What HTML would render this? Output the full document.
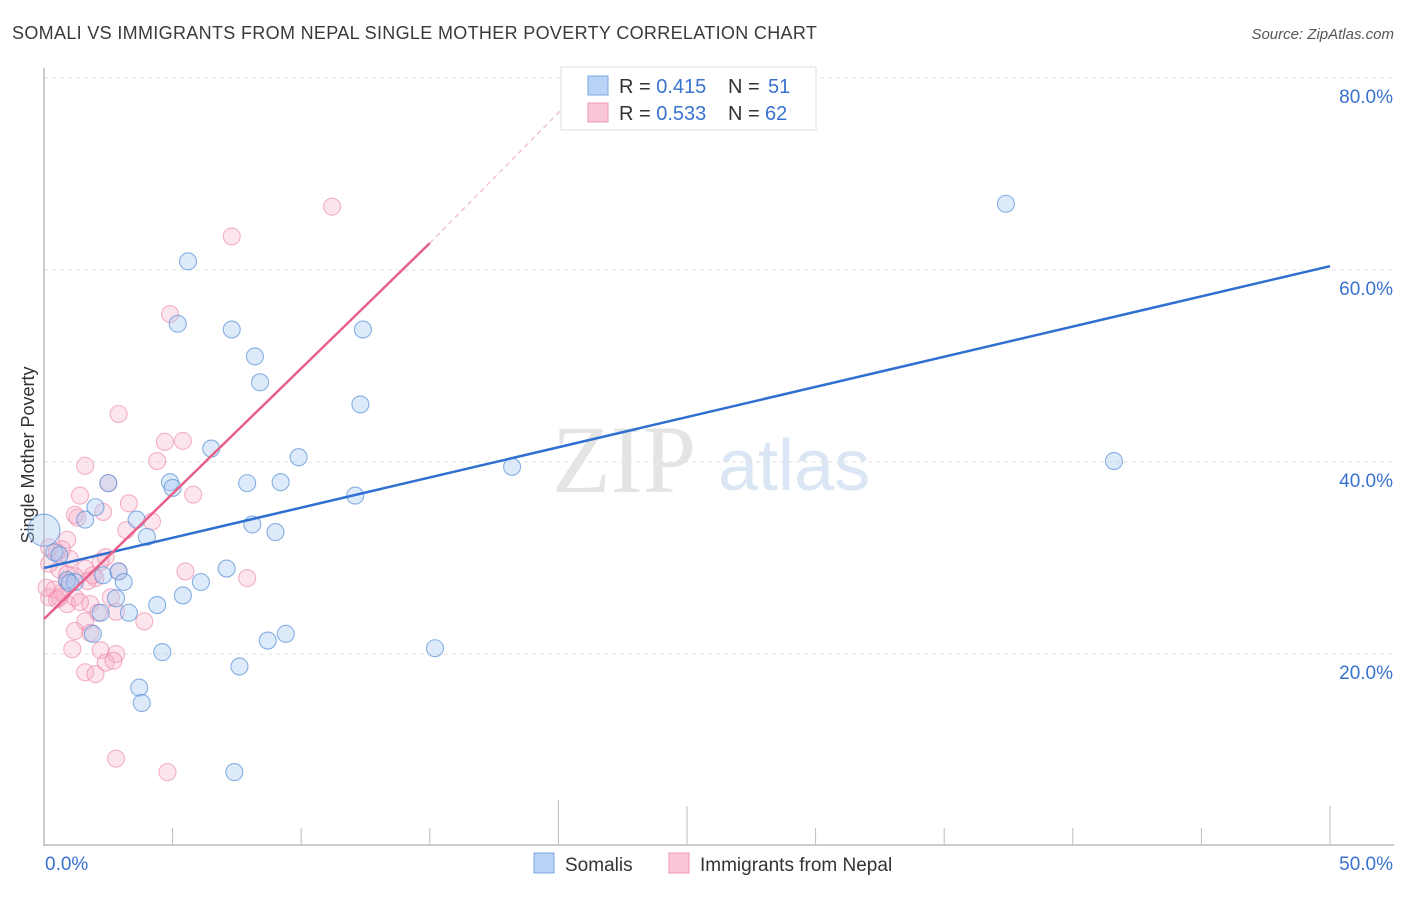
<!DOCTYPE html>
<html><head><meta charset="utf-8"><style>
body{margin:0;background:#fff;font-family:"Liberation Sans",sans-serif}
</style></head><body>
<svg id="chart" width="1406" height="892" xmlns="http://www.w3.org/2000/svg" font-family="Liberation Sans, sans-serif">
<text x="12" y="39" font-size="18" fill="#3a3a3a" letter-spacing="0.33">SOMALI VS IMMIGRANTS FROM NEPAL SINGLE MOTHER POVERTY CORRELATION CHART</text>
<text x="1394" y="39" font-size="15" fill="#555" font-style="italic" text-anchor="end">Source: ZipAtlas.com</text>
<text x="552" y="492" font-size="96" fill="#e4e4e4" font-family="Liberation Serif, serif">ZIP</text>
<text x="718" y="490" font-size="72" fill="#dbe6f5">atlas</text>
<text transform="translate(34,455) rotate(-90)" font-size="18" fill="#333" text-anchor="middle">Single Mother Poverty</text>
<g id="grid"></g><g id="axes"></g><g id="marks"></g>
<g>
<rect x="561" y="67" width="255" height="63" fill="#fff" stroke="#ddd"/>
<rect x="588" y="76" width="20" height="19" fill="#b8d3f5" stroke="#7aa6e0"/>
<rect x="588" y="103" width="20" height="19" fill="#fac7d7" stroke="#ec9ab3"/>
<text x="619" y="93" font-size="20" fill="#333">R = <tspan fill="#3a72d0">0.415</tspan><tspan x="728">N = </tspan><tspan fill="#3a72d0" x="768">51</tspan></text>
<text x="619" y="120" font-size="20" fill="#333">R = <tspan fill="#3a72d0">0.533</tspan><tspan x="728">N = </tspan><tspan fill="#3a72d0" x="765">62</tspan></text>
</g>
<g>
<rect x="534" y="853" width="20" height="20" fill="#b8d3f5" stroke="#7aa6e0"/>
<text x="565" y="871" font-size="19" fill="#333">Somalis</text>
<rect x="669" y="853" width="20" height="20" fill="#fac7d7" stroke="#ec9ab3"/>
<text x="700" y="871" font-size="19" fill="#333">Immigrants from Nepal</text>
</g>
</svg>
<script>
const yTicks=[20,40,60,80];
const xTickLabels=["0.0%","50.0%"];
const blueX=[5.6,5.2,7.3,8.2,8.4,12.4,12.3,6.5,9.9,4.9,5.0,7.9,9.2,2.5,12.1,8.1,9.0,4.0,1.6,2.0,3.6,0.0,0.4,0.6,0.9,1.2,1.0,2.3,2.9,3.1,2.8,2.2,3.3,4.4,5.4,6.1,7.1,1.9,8.7,9.4,4.6,7.6,15.2,3.7,3.8,7.4,18.2,37.4,41.6];
const blueY=[60.9,54.4,53.8,51.0,48.3,53.8,46.0,41.4,40.5,37.9,37.3,37.8,37.9,37.8,36.5,33.5,32.7,32.2,34.0,35.3,34.0,32.9,30.6,30.3,27.7,27.5,27.4,28.2,28.6,27.5,25.8,24.3,24.3,25.1,26.1,27.5,28.9,22.1,21.4,22.1,20.2,18.7,20.6,16.5,14.9,7.7,39.5,66.9,40.1];
const pinkX=[11.2,7.3,4.9,2.9,4.7,5.4,4.4,1.6,1.4,2.5,5.8,3.3,1.3,1.2,2.3,4.2,3.2,0.9,0.2,0.5,1.0,0.2,2.4,2.2,1.6,0.6,1.2,2.0,1.9,1.7,0.9,5.5,7.9,0.4,0.7,0.2,0.6,0.9,1.2,1.8,2.6,2.8,2.1,3.9,1.6,1.2,1.8,1.1,2.2,2.8,2.4,2.7,1.6,2.0,2.8,4.8,0.7,0.5,0.1,2.9,0.9,1.4];
const pinkY=[66.6,63.5,55.4,45.0,42.1,42.2,40.1,39.6,36.5,37.8,36.6,35.7,34.2,34.5,34.8,33.8,32.9,31.9,31.1,30.6,29.9,29.4,30.1,29.6,28.9,28.8,28.1,27.9,28.2,27.6,27.5,28.6,27.9,26.7,26.4,25.9,25.9,25.2,25.9,25.2,25.9,24.4,24.3,23.4,23.4,22.4,22.2,20.5,20.4,20.0,19.1,19.3,18.1,17.9,9.1,7.7,30.9,25.7,26.9,28.6,28.3,25.4];
const blueLine=[[0,28.96],[50,60.4]];
const pinkLine=[[0,23.65],[15.0,62.8]];
const pinkDash=[[15.0,62.8],[20.3,77.2]];
const X=v=>44+v/50*1286, Y=v=>846-v*9.6;
const NS="http://www.w3.org/2000/svg";
function mk(p,t,a){const e=document.createElementNS(NS,t);for(const k in a)e.setAttribute(k,a[k]);document.getElementById(p).appendChild(e);return e;}
yTicks.forEach(t=>{
 const g=mk("grid","line",{x1:44,x2:1394,y1:Y(t),y2:Y(t),stroke:"#e2e2e2","stroke-dasharray":"4,4"});
 
 
 const l=mk("grid","text",{x:1393,y:Y(t)+25,"font-size":19,fill:"#3a72d0","text-anchor":"end"});l.textContent=t.toFixed(1)+"%";
 
 
});
const ax=mk("axes","line",{x1:44,x2:44,y1:68,y2:846,stroke:"#bbb","stroke-width":1.5});


const bx=mk("axes","line",{x1:44,x2:1394,y1:845,y2:845,stroke:"#bbb","stroke-width":1.5});


for(let i=0;i<=10;i++){const tall=(i==4||i==5||i==10);
 const t=mk("axes","line",{x1:X(i*5),x2:X(i*5),y1:tall?(i==4?800:806):828,y2:845,stroke:"#bbb"});
 
 }
[[0,"start",45],[1,"end",1393]].forEach(([i,a,x])=>{const l=mk("axes","text",{x:x,y:870,"font-size":19,fill:"#3a72d0","text-anchor":a});l.textContent=xTickLabels[i];
 
 });
pinkX.forEach((v,i)=>{const c=mk("marks","circle",{cx:X(v),cy:Y(pinkY[i]),r:8.5,fill:"rgba(248,170,196,0.3)",stroke:"rgba(236,140,170,0.65)","stroke-width":1.1});
 
 });
blueX.forEach((v,i)=>{const c=mk("marks","circle",{cx:X(v),cy:Y(blueY[i]),r:i==21?16:8.5,fill:"rgba(165,200,242,0.38)",stroke:"rgba(90,145,215,0.7)","stroke-width":1.1});
 
 });
const bl=mk("marks","line",{x1:X(blueLine[0][0]),y1:Y(blueLine[0][1]),x2:X(blueLine[1][0]),y2:Y(blueLine[1][1]),stroke:"#2f6fd0","stroke-width":2.5});


const pl=mk("marks","line",{x1:X(pinkLine[0][0]),y1:Y(pinkLine[0][1]),x2:X(pinkLine[1][0]),y2:Y(pinkLine[1][1]),stroke:"#e8608a","stroke-width":2.5});


const pd=mk("marks","line",{x1:X(pinkDash[0][0]),y1:Y(pinkDash[0][1]),x2:X(pinkDash[1][0]),y2:Y(pinkDash[1][1]),stroke:"#f0a8bf","stroke-width":1,"stroke-dasharray":"5,4"});


</script>
</body></html>
